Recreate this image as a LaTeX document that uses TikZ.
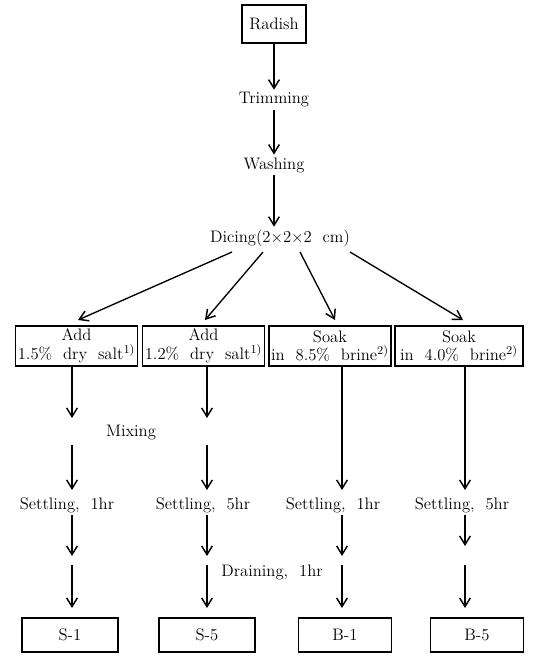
\documentclass[tikz,border=0pt]{standalone}
\usetikzlibrary{arrows.meta}
\begin{document}
\begin{tikzpicture}[x=0.75pt,y=-0.75pt,
  font=\fontsize{12.5}{14}\selectfont,
  arr/.style={-{Straight Barb[length=6.5pt,width=8pt,line width=1.1pt]}, line width=1pt},
  box/.style={draw, line width=0.8pt, inner sep=0pt, align=center},
  lbl/.style={inner sep=2pt}]
\useasboundingbox (0,0) rectangle (532,659);
% top chain
\node[box, minimum width=48pt, minimum height=28.5pt] (rad) at (274,24) {Radish};
\node[lbl] (trim) at (274,100) {Trimming};
\node[lbl] (wash) at (274,165) {Washing};
\node[lbl] (dice) at (280,238) {Dicing(2$\times$2$\times$2\ \ cm)};
\draw[arr] (rad) -- (trim);
\draw[arr] (trim) -- (wash);
\draw[arr] (wash.south -| rad) -- (dice.north -| rad);
% treatment boxes
\node[box, minimum width=92pt, minimum height=30pt] (a1) at (76.5,346) {Add\\1.5\%\ \ dry\ \ salt$^{1)}$};
\node[box, minimum width=92pt, minimum height=30pt] (a2) at (203.5,346) {Add\\1.2\%\ \ dry\ \ salt$^{1)}$};
\node[box, minimum width=91.5pt, minimum height=30pt] (a3) at (330,346) {Soak\\in\ \ 8.5\%\ \ brine$^{2)}$};
\node[box, minimum width=96pt, minimum height=30pt] (a4) at (459,346) {Soak\\in\ \ 4.0\%\ \ brine$^{2)}$};
% diagonals
\coordinate (d1) at (232,252); \coordinate (d2) at (263,252);
\coordinate (d3) at (300,252); \coordinate (d4) at (350,252);
\coordinate (e1) at (78,320); \coordinate (e2) at (205,320);
\coordinate (e3) at (335,320); \coordinate (e4) at (463,320);
\draw[arr] (d1) -- (e1);
\draw[arr] (d2) -- (e2);
\draw[arr] (d3) -- (e3);
\draw[arr] (d4) -- (e4);
% middle labels
\node[lbl] (mix) at (131,433) {Mixing};
\node[lbl] (s1) at (67,505) {Settling,\ \ 1hr};
\node[lbl] (s2) at (203,505) {Settling,\ \ 5hr};
\node[lbl] (s3) at (333,505) {Settling,\ \ 1hr};
\node[lbl] (s4) at (462,505) {Settling,\ \ 5hr};
\node[lbl] (dr) at (272,572) {Draining,\ \ 1hr};
% bottom boxes
\node[box, minimum width=72pt, minimum height=25.5pt] (r1) at (70,635) {S-1};
\node[box, minimum width=72pt, minimum height=25.5pt] (r2) at (207,635) {S-5};
\node[box, minimum width=70pt, minimum height=25.5pt] (r3) at (345,635) {B-1};
\node[box, minimum width=70pt, minimum height=25.5pt] (r4) at (477,635) {B-5};
% column coordinates
\foreach \n/\x in {1/72,2/207,3/342,4/465}{
  \coordinate (m\n) at (\x,418);
  \coordinate (n\n) at (\x,445);
  \coordinate (p\n) at (\x,490);
  \coordinate (q\n) at (\x,515);
  \coordinate (t\n) at (\x,556);
  \coordinate (u\n) at (\x,565);
  \coordinate (v\n) at (\x,608);
}
\coordinate (t4) at (465,546);
% column 1 and 2
\draw[arr] (a1.south -| m1) -- (m1);
\draw[arr] (n1) -- (p1);
\draw[arr] (a2.south -| m2) -- (m2);
\draw[arr] (n2) -- (p2);
% column 3 and 4
\draw[arr] (a3.south -| m3) -- (p3);
\draw[arr] (a4.south -| m4) -- (p4);
\foreach \n in {1,2,3,4}{
  \draw[arr] (q\n) -- (t\n);
  \draw[arr] (u\n) -- (v\n);
}
\end{tikzpicture}
\end{document}
